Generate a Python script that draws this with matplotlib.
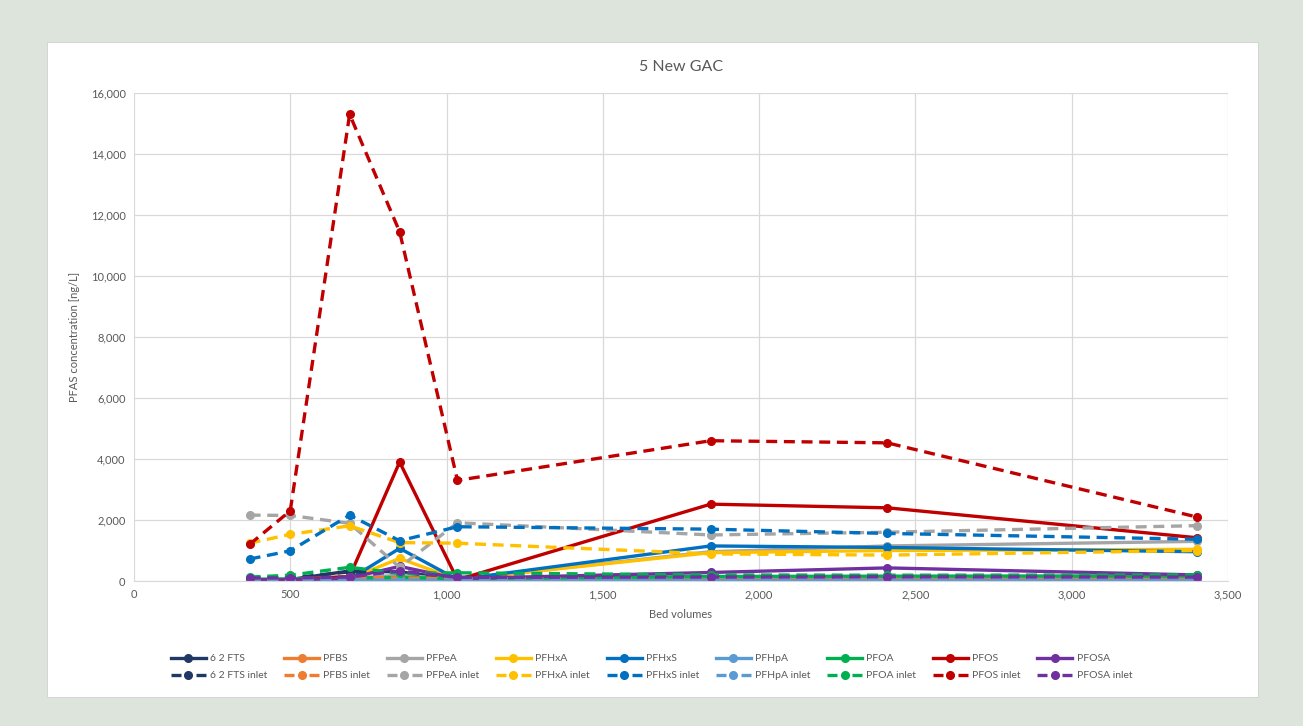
import matplotlib.pyplot as plt
from matplotlib.lines import Line2D
from matplotlib.patches import Rectangle
from matplotlib.ticker import FuncFormatter

plt.rcParams['font.family'] = ['Lato', 'DejaVu Sans']

bed_volumes = [370, 500, 690, 850, 1035, 1845, 2410, 3400]

names = ["6 2 FTS", "PFBS", "PFPeA", "PFHxA", "PFHxS", "PFHpA", "PFOA", "PFOS", "PFOSA"]
colors = ["#1F3864", "#ED7D31", "#A5A5A5", "#FFC000", "#0070C0",
          "#5B9BD5", "#00B050", "#C00000", "#7030A0"]

# outlet concentrations [ng/L]
fts62 = [40, 50, 330, 300, 60, 80, 90, 100]
pfbs = [30, 40, 150, 80, 40, 60, 70, 70]
pfpea = [20, 30, 60, 200, 50, 960, 1150, 1300]
pfhxa = [20, 30, 80, 740, 50, 930, 1000, 1040]
pfhxs = [20, 30, 60, 1070, 50, 1150, 1100, 960]
pfhpa = [0, 0, 10, 20, 10, 20, 20, 20]
pfoa = [60, 70, 100, 120, 80, 150, 160, 170]
pfos = [20, 30, 150, 3900, 40, 2520, 2400, 1420]
pfosa = [40, 40, 100, 480, 80, 280, 430, 200]

# inlet concentrations [ng/L]
fts62_in = [90, 100, 300, 280, 120, 120, 120, 120]
pfbs_in = [60, 70, 120, 100, 80, 80, 80, 80]
pfpea_in = [2160, 2150, 1890, 450, 1910, 1510, 1600, 1815]
pfhxa_in = [1240, 1530, 1810, 1260, 1240, 890, 850, 1000]
pfhxs_in = [720, 990, 2160, 1320, 1780, 1700, 1560, 1370]
pfhpa_in = [20, 20, 30, 30, 30, 30, 30, 30]
pfoa_in = [130, 190, 450, 250, 270, 200, 190, 200]
pfos_in = [1200, 2300, 15300, 11450, 3300, 4600, 4530, 2100]
pfosa_in = [100, 100, 130, 330, 120, 130, 140, 130]

outlet = [fts62, pfbs, pfpea, pfhxa, pfhxs, pfhpa, pfoa, pfos, pfosa]
inlet = [fts62_in, pfbs_in, pfpea_in, pfhxa_in, pfhxs_in, pfhpa_in, pfoa_in, pfos_in, pfosa_in]

fig = plt.figure(figsize=(13.03, 7.26), dpi=100)
fig.patch.set_facecolor("#DCE4DC")
fig.patches.append(Rectangle((0.036, 0.040), 0.9295, 0.902, transform=fig.transFigure,
                             facecolor="white", edgecolor="#D0D0D0", linewidth=0.6, zorder=-10))

ax = fig.add_axes([0.1028, 0.1997, 0.8396, 0.6722])
ax.set_facecolor("white")

for name, col, y_out in zip(names, colors, outlet):
    ax.plot(bed_volumes, y_out, color=col, lw=2.4, marker="o", ms=5.5, label=name)
for name, col, y_in in zip(names, colors, inlet):
    ax.plot(bed_volumes, y_in, color=col, lw=2.4, marker="o", ms=5.5,
            dashes=(3.3, 2.0), label=name + " inlet")

ax.set_xlim(0, 3500)
ax.set_ylim(0, 16000)
ax.set_xticks(range(0, 3501, 500))
ax.set_yticks(range(0, 16001, 2000))
fmt = FuncFormatter(lambda v, p: f"{int(v):,}")
ax.xaxis.set_major_formatter(fmt)
ax.yaxis.set_major_formatter(fmt)
ax.grid(True, color="#D9D9D9", lw=0.9)
ax.set_axisbelow(True)
for s in ["top", "right", "left"]:
    ax.spines[s].set_visible(False)
ax.spines["bottom"].set_color("#D9D9D9")
ax.tick_params(length=0, colors="#595959", labelsize=8, pad=6)

ax.set_title("5 New GAC", color="#595959", fontsize=11.5, pad=16)
ax.set_xlabel("Bed volumes", color="#595959", fontsize=8, labelpad=6)
ax.set_ylabel("PFAS concentration [ng/L]", color="#595959", fontsize=8, labelpad=8)

# legend keys like excel: "—●—" for outlet, "- ● -" for inlet, filled column-wise
order = []
labels = []
for name, col in zip(names, colors):
    order.append(Line2D([], [], color=col, lw=2.4, marker="o", ms=5.5))
    labels.append(name)
    order.append(Line2D([], [], color=col, lw=2.4, marker="o", ms=5.5, dashes=(3.0, 4.5)))
    labels.append(name + " inlet")
fig.legend(order, labels, loc="center", bbox_to_anchor=(0.500, 0.081), ncol=9,
           frameon=False, fontsize=7.5, labelcolor="#595959", handlelength=3.36,
           columnspacing=1.6, handletextpad=0.4, labelspacing=0.75)

fig.savefig("out.png", dpi=100, facecolor=fig.get_facecolor())
